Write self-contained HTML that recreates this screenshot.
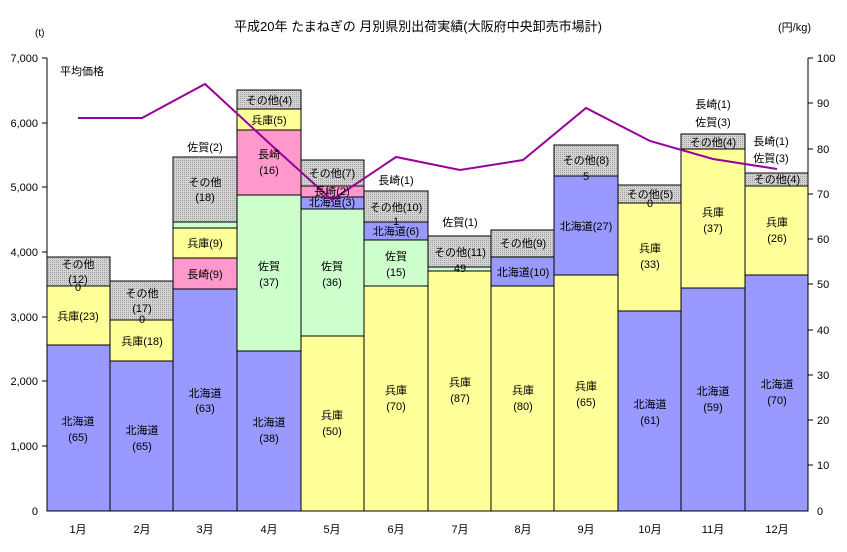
<!DOCTYPE html>
<html><head><meta charset="utf-8"><style>
body{margin:0;background:#fff}
svg text{font-family:"Liberation Sans","Noto Sans CJK JP",sans-serif;font-size:11px;fill:#000}
</style></head><body>
<svg width="847" height="547" xmlns="http://www.w3.org/2000/svg">
<defs><pattern id="g" width="2" height="2" patternUnits="userSpaceOnUse"><rect width="2" height="2" fill="#d4d4d4"/><rect width="1" height="1" fill="#a0a0a0"/></pattern></defs>
<rect width="847" height="547" fill="#fff"/>
<text x="418" y="31" text-anchor="middle" style="font-size:13px">平成20年 たまねぎの 月別県別出荷実績(大阪府中央卸売市場計)</text>
<text x="35" y="36" style="font-size:10px">(t)</text>
<text x="778" y="31" style="font-size:11px">(円/kg)</text>
<text x="60" y="75">平均価格</text>
<g stroke="#000" stroke-width="1">
<rect x="47" y="345" width="63" height="166" fill="#9999ff"/><rect x="47" y="286" width="63" height="59" fill="#ffff99"/><rect x="47" y="257" width="63" height="29" fill="url(#g)"/>
<rect x="110" y="361" width="63" height="150" fill="#9999ff"/><rect x="110" y="320" width="63" height="41" fill="#ffff99"/><rect x="110" y="281" width="63" height="39" fill="url(#g)"/>
<rect x="173" y="289" width="64" height="222" fill="#9999ff"/><rect x="173" y="258" width="64" height="31" fill="#ff99cc"/><rect x="173" y="228" width="64" height="30" fill="#ffff99"/><rect x="173" y="222" width="64" height="6" fill="#ccffcc"/><rect x="173" y="157" width="64" height="65" fill="url(#g)"/>
<rect x="237" y="351" width="64" height="160" fill="#9999ff"/><rect x="237" y="195" width="64" height="156" fill="#ccffcc"/><rect x="237" y="130" width="64" height="65" fill="#ff99cc"/><rect x="237" y="109" width="64" height="21" fill="#ffff99"/><rect x="237" y="90" width="64" height="19" fill="url(#g)"/>
<rect x="301" y="336" width="63" height="175" fill="#ffff99"/><rect x="301" y="209" width="63" height="127" fill="#ccffcc"/><rect x="301" y="197" width="63" height="12" fill="#9999ff"/><rect x="301" y="186" width="63" height="11" fill="#ff99cc"/><rect x="301" y="160" width="63" height="26" fill="url(#g)"/>
<rect x="364" y="286" width="64" height="225" fill="#ffff99"/><rect x="364" y="240" width="64" height="46" fill="#ccffcc"/><rect x="364" y="222" width="64" height="18" fill="#9999ff"/><rect x="364" y="191" width="64" height="31" fill="url(#g)"/>
<rect x="428" y="271" width="63" height="240" fill="#ffff99"/><rect x="428" y="267" width="63" height="4" fill="#ccffcc"/><rect x="428" y="236" width="63" height="31" fill="url(#g)"/>
<rect x="491" y="286" width="63" height="225" fill="#ffff99"/><rect x="491" y="257" width="63" height="29" fill="#9999ff"/><rect x="491" y="230" width="63" height="27" fill="url(#g)"/>
<rect x="554" y="275" width="64" height="236" fill="#ffff99"/><rect x="554" y="176" width="64" height="99" fill="#9999ff"/><rect x="554" y="145" width="64" height="31" fill="url(#g)"/>
<rect x="618" y="311" width="63" height="200" fill="#9999ff"/><rect x="618" y="203" width="63" height="108" fill="#ffff99"/><rect x="618" y="185" width="63" height="18" fill="url(#g)"/>
<rect x="681" y="288" width="64" height="223" fill="#9999ff"/><rect x="681" y="149" width="64" height="139" fill="#ffff99"/><rect x="681" y="134" width="64" height="15" fill="url(#g)"/>
<rect x="745" y="275" width="63" height="236" fill="#9999ff"/><rect x="745" y="186" width="63" height="89" fill="#ffff99"/><rect x="745" y="173" width="63" height="13" fill="url(#g)"/>
</g>
<polyline fill="none" stroke="#990099" stroke-width="2" points="78,118 142,118 205,84 269,143 332,200 396,157 460,170 523,160 586,108 650,141 713,159 777,169"/>
<g stroke="#000" stroke-width="1">
<line x1="47" y1="58" x2="47" y2="511"/><line x1="47" y1="511" x2="808" y2="511"/><line x1="808" y1="58" x2="808" y2="511"/>
<line x1="42" y1="58" x2="47" y2="58"/><line x1="42" y1="123" x2="47" y2="123"/><line x1="42" y1="187" x2="47" y2="187"/><line x1="42" y1="252" x2="47" y2="252"/><line x1="42" y1="317" x2="47" y2="317"/><line x1="42" y1="381" x2="47" y2="381"/><line x1="42" y1="446" x2="47" y2="446"/>
<line x1="808" y1="58" x2="813" y2="58"/><line x1="808" y1="103" x2="813" y2="103"/><line x1="808" y1="149" x2="813" y2="149"/><line x1="808" y1="194" x2="813" y2="194"/><line x1="808" y1="239" x2="813" y2="239"/><line x1="808" y1="284" x2="813" y2="284"/><line x1="808" y1="330" x2="813" y2="330"/><line x1="808" y1="375" x2="813" y2="375"/><line x1="808" y1="420" x2="813" y2="420"/><line x1="808" y1="465" x2="813" y2="465"/>
</g>
<g text-anchor="end" style="font-size:10px">
<text x="38" y="62">7,000</text><text x="38" y="127">6,000</text><text x="38" y="191">5,000</text><text x="38" y="256">4,000</text><text x="38" y="321">3,000</text><text x="38" y="385">2,000</text><text x="38" y="450">1,000</text><text x="38" y="515">0</text>
</g>
<g style="font-size:10px">
<text x="817" y="62">100</text><text x="817" y="107">90</text><text x="817" y="153">80</text><text x="817" y="198">70</text><text x="817" y="243">60</text><text x="817" y="288">50</text><text x="817" y="334">40</text><text x="817" y="379">30</text><text x="817" y="424">20</text><text x="817" y="469">10</text><text x="817" y="515">0</text>
</g>
<g text-anchor="middle">
<text x="78" y="533">1月</text><text x="142" y="533">2月</text><text x="205" y="533">3月</text><text x="269" y="533">4月</text><text x="332" y="533">5月</text><text x="396" y="533">6月</text><text x="460" y="533">7月</text><text x="523" y="533">8月</text><text x="586" y="533">9月</text><text x="650" y="533">10月</text><text x="713" y="533">11月</text><text x="777" y="533">12月</text>
<text x="78" y="425">北海道</text><text x="78" y="441">(65)</text>
<text x="78" y="320">兵庫(23)</text><text x="78" y="268">その他</text><text x="78" y="283">(12)</text><text x="78" y="291">0</text>
<text x="142" y="434">北海道</text><text x="142" y="450">(65)</text>
<text x="142" y="345">兵庫(18)</text><text x="142" y="297">その他</text><text x="142" y="312">(17)</text><text x="142" y="323">0</text>
<text x="205" y="397">北海道</text><text x="205" y="412">(63)</text>
<text x="205" y="278">長崎(9)</text><text x="205" y="247">兵庫(9)</text><text x="205" y="186">その他</text><text x="205" y="201">(18)</text><text x="205" y="151">佐賀(2)</text>
<text x="269" y="426">北海道</text><text x="269" y="442">(38)</text>
<text x="269" y="270">佐賀</text><text x="269" y="286">(37)</text>
<text x="269" y="158">長崎</text><text x="269" y="174">(16)</text>
<text x="269" y="124">兵庫(5)</text><text x="269" y="104">その他(4)</text>
<text x="332" y="419">兵庫</text><text x="332" y="435">(50)</text>
<text x="332" y="270">佐賀</text><text x="332" y="286">(36)</text>
<text x="332" y="206">北海道(3)</text><text x="332" y="195">長崎(2)</text><text x="332" y="177">その他(7)</text>
<text x="396" y="394">兵庫</text><text x="396" y="410">(70)</text>
<text x="396" y="260">佐賀</text><text x="396" y="276">(15)</text>
<text x="396" y="235">北海道(6)</text><text x="396" y="211">その他(10)</text><text x="396" y="225">1</text><text x="396" y="184">長崎(1)</text>
<text x="460" y="386">兵庫</text><text x="460" y="402">(87)</text>
<text x="460" y="256">その他(11)</text><text x="460" y="272">49</text><text x="460" y="226">佐賀(1)</text>
<text x="523" y="394">兵庫</text><text x="523" y="410">(80)</text>
<text x="523" y="276">北海道(10)</text><text x="523" y="247">その他(9)</text>
<text x="586" y="390">兵庫</text><text x="586" y="406">(65)</text>
<text x="586" y="230">北海道(27)</text><text x="586" y="164">その他(8)</text><text x="586" y="180">5</text>
<text x="650" y="408">北海道</text><text x="650" y="424">(61)</text>
<text x="650" y="252">兵庫</text><text x="650" y="268">(33)</text><text x="650" y="198">その他(5)</text><text x="650" y="207">0</text>
<text x="713" y="395">北海道</text><text x="713" y="411">(59)</text>
<text x="713" y="216">兵庫</text><text x="713" y="232">(37)</text><text x="713" y="146">その他(4)</text>
<text x="713" y="108">長崎(1)</text><text x="713" y="126">佐賀(3)</text>
<text x="777" y="388">北海道</text><text x="777" y="404">(70)</text>
<text x="777" y="226">兵庫</text><text x="777" y="242">(26)</text><text x="777" y="183">その他(4)</text>
<text x="771" y="145">長崎(1)</text><text x="771" y="162">佐賀(3)</text>
</g>
</svg>
</body></html>
